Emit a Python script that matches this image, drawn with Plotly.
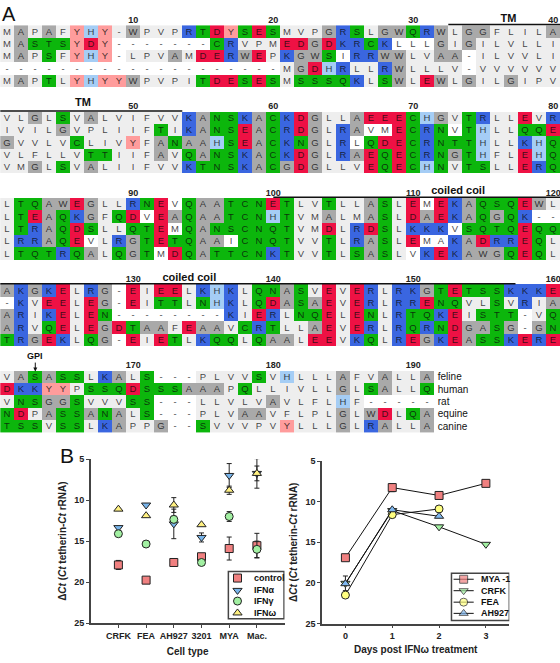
import plotly.graph_objects as go

FONT = "Liberation Sans"
INK = "#222222"
AXIS = "#444444"

# ---- alignment (lowercase = white background residue, ~ = gap on light grey)
SPECIES = ["feline", "human", "rat", "equine", "canine"]
BLOCK_1 = [
    "MAPAFYHY~WPVPRTDYSESMVPGRSLGWQRWLGGFLILA",
    "MASTSYDY-------CRVPMEDGDKRCKlllGIGILVLLI",
    "MAPSFYHY-LPVAMDERWEPKGWSiRRWWLVAA-ILVVLI",
    "--------------------MGDHRLLRWLLLV-VVVVVV",
    "MAPTLYHYYWPVPITDESESMSSSQKLSWLEWLGILGIPV",
]
BLOCK_2 = [
    "VLGLSVALVIFVVKANSKACKDGLLAEEECHGVTRLLEVR",
    "IVILGVPLIIFTIKANSEACRDGLRAvmECRNvTHLLQQE",
    "GVVLVCLIVYFANAAHSEACKNGLRlQDECRNTTHLLKHQ",
    "VLFLLVTTIIFAVQANSKACKDGLRAEQECRNGTHFLEHQ",
    "VMGLSVALIIFVVKTNSKACGDGLLVEQECHNVTSLLERQ",
]
BLOCK_3 = [
    "LTQAWEGLLRNEvQAATCNETLVTLLASLEmEKAQSQEWL",
    "LTEAQKGFQDvEAQAATCNHTVMALMASLDAEKAQGQK--",
    "LTRAQDSLLQTEmQANSCNQTVMDLRDSLKKKvSQTQEQQ",
    "LRRAQEvLRGTETQAAiCNQTVVTLRASLEmaKADRREQL",
    "LTQTRQALQGTmDQATTCNKTVVTLSASLvKEKAWGQEQL",
]
BLOCK_4 = [
    "AKGKELRG-EIEELKHKLQNASVEVERLRKGTETSSKKKE",
    "-KVEELEG-EITTLNHKLQDASAEVERLRRENQVLSVRIA",
    "ARIKELEN--------KIERLNQELENLRTQKEISTT-VQ",
    "ARVQELEGDTAAFEAAVCRTLLAEVERLRQRNDGASG-GN",
    "TRGEKLQG-EIETLKQQLQAALEEVKQLREGKEASSKERE",
]
BLOCK_5 = [
    "VASASSLKALS---PLVVSVHLLLAFVALLA",
    "DKKYYPSSQDSSSAAAPQLLIVLLGLSALLQ",
    "VNSGGSVVVSS---LLVLVAVLFLHF-----",
    "NDPASSANALS---PLVAAVFLPLGLWDLQA",
    "TSSVSSLKAPPG--SVVVPVYLLLGLRALLA",
]
BLOCKS = [BLOCK_1, BLOCK_2, BLOCK_3, BLOCK_4, BLOCK_5]

RESIDUE_CLASS = {
    "-": 0, "a": 0, "i": 0, "l": 0, "m": 0, "v": 0,
    "~": 1, "L": 1, "I": 1, "V": 1, "F": 1, "M": 1, "P": 1,
    "A": 2, "G": 2, "W": 2,
    "S": 3, "T": 3, "N": 3, "Q": 3, "C": 3,
    "K": 4, "R": 4,
    "D": 5, "E": 5,
    "H": 6,
    "Y": 7,
}
CLASS_COLORS = ["#ffffff", "#eeeeee", "#a9a9a9", "#0cb60c", "#3a66e0", "#ee1144", "#a5cdf5", "#ff9c9c"]

NUMBER_LABELS = [[10, 20, 30, 40], [50, 60, 70, 80], [90, 100, 110, 120], [130, 140, 150, 160], [170, 180, 190]]
DOMAIN_BARS = [(0, 32.5, 40.5), (1, 0.5, 13.5), (2, 20.0, 40.5), (3, 0.5, 37.3)]
DOMAIN_TEXT = [("TM", 36.8, -1.0), ("TM", 6.4, 5.83), ("coiled coil", 33.2, 12.93), ("coiled coil", 14.0, 19.95)]

# ---- panel B, left
CELL_TYPES = ["CRFK", "FEA", "AH927", "3201", "MYA", "Mac."]
CONTROL = [17.9, 19.75, 17.6, 16.9, 15.9, 15.55]
CONTROL_ERR = [0.55, 0, 0, 0.3, 1.4, 1.5]
IFN_A = [13.35, 10.6, 12.9, 14.55, 7.0, 6.75]
IFN_A_ERR = [0, 0, 1.8, 0.55, 1.45, 1.8]
IFN_G = [14.1, 15.35, 12.35, 17.6, 12.0, 16.0]
IFN_G_ERR = [0, 0, 0.4, 0, 0.6, 1.0]
IFN_W = [11.1, 11.9, 10.6, 13.0, 8.8, 6.75]
IFN_W_ERR = [0, 0, 0.9, 0, 0.5, 0.9]

# ---- panel B, right
DAYS = [0, 1, 2, 3]
MYA1 = [16.9, 8.27, 9.24, 7.75]
MYA1_ERR = [0, 0.5, 0, 0]
CRFK = [20.05, 11.1, 13.1, 15.25]
CRFK_ERR = [0.9, 0, 0, 0]
FEA = [21.5, 11.6, 10.9]
AH927 = [20.1, 11.0, 11.8]

RED, BLUE, GREEN, YELLOW = "#f08080", "#78b4ea", "#a2f0a2", "#fff080"
YTITLE = "<b>Δ<i>Ct</i> (<i>Ct</i> tetherin-<i>Ct</i> rRNA)</b>"
W, H = 560, 663
ROWS_PER_BLOCK = 7
MS = 8

# ---- build the grid
z, text = [], []
for b, block in enumerate(BLOCKS):
    for seq in block:
        seq = seq.ljust(40)
        z.append([RESIDUE_CLASS.get(ch) for ch in seq])
        text.append([("" if ch == " " else ("-" if ch == "~" else ch.upper())) for ch in seq])
    if b < len(BLOCKS) - 1:
        for _ in range(ROWS_PER_BLOCK - 5):
            z.append([None] * 40)
            text.append([""] * 40)

n = len(CLASS_COLORS)
colorscale = []
for i, c in enumerate(CLASS_COLORS):
    colorscale += [[i / n, c], [(i + 1) / n, c]]

fig = go.Figure()
fig.add_trace(go.Heatmap(
    z=z, text=text, texttemplate="%{text}",
    x=list(range(1, 41)), y=list(range(len(z))),
    zmin=0, zmax=n, colorscale=colorscale, showscale=False, hoverongaps=False,
    textfont=dict(family=FONT, size=9.5, color="rgba(10,10,10,0.78)"),
    xaxis="x", yaxis="y",
))

# numbers
for b, nums in enumerate(NUMBER_LABELS):
    fig.add_trace(go.Scatter(
        x=[(v - 1) % 40 + 1 for v in nums], y=[b * ROWS_PER_BLOCK - 0.9] * len(nums),
        text=[f"<b>{v}</b>" for v in nums], mode="text", showlegend=False, cliponaxis=False,
        textfont=dict(family=FONT, size=9, color=INK), xaxis="x", yaxis="y"))
# domain bars
for b, c0, c1 in DOMAIN_BARS:
    fig.add_trace(go.Scatter(
        x=[c0, c1], y=[b * ROWS_PER_BLOCK - 0.57] * 2, mode="lines", showlegend=False,
        line=dict(color="#111111", width=1.5), xaxis="x", yaxis="y"))
fig.add_trace(go.Scatter(
    x=[t[1] for t in DOMAIN_TEXT], y=[t[2] for t in DOMAIN_TEXT],
    text=[f"<b>{t[0]}</b>" for t in DOMAIN_TEXT], mode="text", showlegend=False,
    textfont=dict(family=FONT, size=11, color="#111111"), xaxis="x", yaxis="y"))
# species names
fig.add_trace(go.Scatter(
    x=[31.75] * 5, y=[4 * ROWS_PER_BLOCK + i + 0.05 for i in range(5)],
    text=SPECIES, mode="text", textposition="middle right", showlegend=False,
    textfont=dict(family=FONT, size=10, color="#111111"), xaxis="x", yaxis="y"))


def left(name, y, err, sym, col):
    fig.add_trace(go.Scatter(
        x=list(range(6)), y=y, mode="markers", name=name, showlegend=False,
        error_y=dict(type="data", array=err, color=INK, thickness=1, width=2.5),
        marker=dict(symbol=sym, size=MS, color=col, line=dict(color=INK, width=1)),
        xaxis="x2", yaxis="y2"))


LEFT_SERIES = [("control", CONTROL, CONTROL_ERR, "square", RED),
               ("IFNα", IFN_A, IFN_A_ERR, "triangle-down", BLUE),
               ("IFNγ", IFN_G, IFN_G_ERR, "circle", GREEN),
               ("IFNω", IFN_W, IFN_W_ERR, "triangle-up", YELLOW)]
for s in LEFT_SERIES:
    left(*s)

RIGHT_SERIES = [("MYA -1", MYA1, MYA1_ERR, "square", RED),
                ("CRFK", CRFK, CRFK_ERR, "triangle-down", GREEN),
                ("FEA", FEA, None, "circle", "#ffff80"),
                ("AH927", AH927, None, "triangle-up", "#80b8f0")]
for name, y, err, sym, col in RIGHT_SERIES:
    fig.add_trace(go.Scatter(
        x=DAYS[:len(y)], y=y, mode="lines+markers", name=name, showlegend=False,
        line=dict(color="#111111", width=1),
        error_y=dict(type="data", array=err, color=INK, thickness=1, width=2.5) if err else None,
        marker=dict(symbol=sym, size=MS, color=col, line=dict(color=INK, width=1)),
        xaxis="x3", yaxis="y3"))

# ---- hand-drawn legends (the native legend cannot reach this row height)
L_ROWS = [19.5, 21.0, 22.3, 23.75]
for (name, _, _, sym, col), ly in zip(LEFT_SERIES, L_ROWS):
    fig.add_trace(go.Scatter(x=[4.3], y=[ly], mode="markers", showlegend=False,
                             marker=dict(symbol=sym, size=MS, color=col, line=dict(color=INK, width=1)),
                             xaxis="x2", yaxis="y2"))
R_ROWS = [19.55, 20.96, 22.37, 23.75]
for (name, _, _, sym, col), ly in zip(RIGHT_SERIES, R_ROWS):
    fig.add_trace(go.Scatter(x=[2.31, 2.525, 2.74], y=[ly] * 3, mode="lines+markers", showlegend=False,
                             line=dict(color="#111111", width=1),
                             marker=dict(symbol=sym, size=[0, MS, 0], color=col, line=dict(color=INK, width=1)),
                             xaxis="x3", yaxis="y3"))

annotations = []


def ann(txt, x, y, xref="x2", yref="y2", size=9, xanchor="left"):
    return dict(text=txt, x=x, y=y, xref=xref, yref=yref, showarrow=False, xanchor=xanchor, yanchor="middle",
                font=dict(family=FONT, size=size, color="#111111"))


for s, ly in zip(LEFT_SERIES, L_ROWS):
    annotations.append(ann(f"<b>{s[0]}</b>", 4.84, ly))
for s, ly in zip(RIGHT_SERIES, R_ROWS):
    annotations.append(ann(f"<b>{s[0]}</b>", 2.85, ly, "x3", "y3"))
annotations.append(ann("A", 0, 1 - 9 / H, "paper", "paper", 20))
annotations.append(ann("B", 58 / W, 1 - 457 / H, "paper", "paper", 21))
annotations.append(dict(
    text="<b>GPI</b>", x=3, y=4 * ROWS_PER_BLOCK - 0.45, xref="x", yref="y", showarrow=True, ax=0, ay=-9,
    arrowhead=2, arrowsize=0.8, arrowwidth=1, arrowcolor="#111111", yanchor="bottom",
    standoff=0, font=dict(family=FONT, size=9, color="#111111")))

box = dict(type="rect", line=dict(color=AXIS, width=1.5), layer="above")
shapes = [dict(box, xref="x2", yref="y2", x0=3.97, x1=5.98, y0=18.7, y1=24.45),
          dict(box, xref="x3", yref="y3", x0=2.265, x1=3.5, y0=18.8, y1=24.64)]

tick = dict(showgrid=False, zeroline=False, showline=True, linecolor=AXIS, linewidth=1.5,
            ticks="outside", ticklen=3, tickwidth=1, tickcolor=AXIS,
            tickfont=dict(family=FONT, size=9, color=INK))
tf = dict(family=FONT, size=10, color=INK)
fig.update_layout(
    width=W, height=H, margin=dict(l=0, r=0, t=0, b=0), showlegend=False,
    paper_bgcolor="white", plot_bgcolor="rgba(0,0,0,0)",
    annotations=annotations, shapes=shapes,
    xaxis=dict(domain=[0, 1], range=[0.479, 40.479], visible=False),
    yaxis=dict(domain=[0, 1], range=[50.76, -2.155], visible=False),
    xaxis2=dict(tick, domain=[90.7 / W, 284.6 / W], range=[-1, 6], anchor="y2",
                tickvals=list(range(6)), ticktext=[f"<b>{c}</b>" for c in CELL_TYPES],
                title=dict(text="<b>Cell type</b>", font=tf, standoff=8)),
    yaxis2=dict(tick, domain=[1 - 627.7 / H, 1 - 461 / H], range=[25, 5], anchor="x2",
                tickvals=[5, 10, 15, 20, 25], ticktext=[f"<b>{v}</b>" for v in [5, 10, 15, 20, 25]],
                title=dict(text=YTITLE, font=tf, standoff=6)),
    xaxis3=dict(tick, domain=[322 / W, 509.3 / W], range=[-0.5, 3.5], anchor="y3",
                tickvals=DAYS, ticktext=[f"<b>{d}</b>" for d in DAYS],
                title=dict(text="<b>Days post IFNω treatment</b>", font=tf, standoff=6)),
    yaxis3=dict(tick, domain=[1 - 628 / H, 1 - 463 / H], range=[25, 5], anchor="x3",
                tickvals=[5, 10, 15, 20, 25], ticktext=[f"<b>{v}</b>" for v in [5, 10, 15, 20, 25]],
                title=dict(text=YTITLE, font=tf, standoff=6)),
)
fig.write_html("out.html", config=dict(displayModeBar=False),
               post_script="document.body.style.margin='0';document.documentElement.style.overflow='hidden';")
